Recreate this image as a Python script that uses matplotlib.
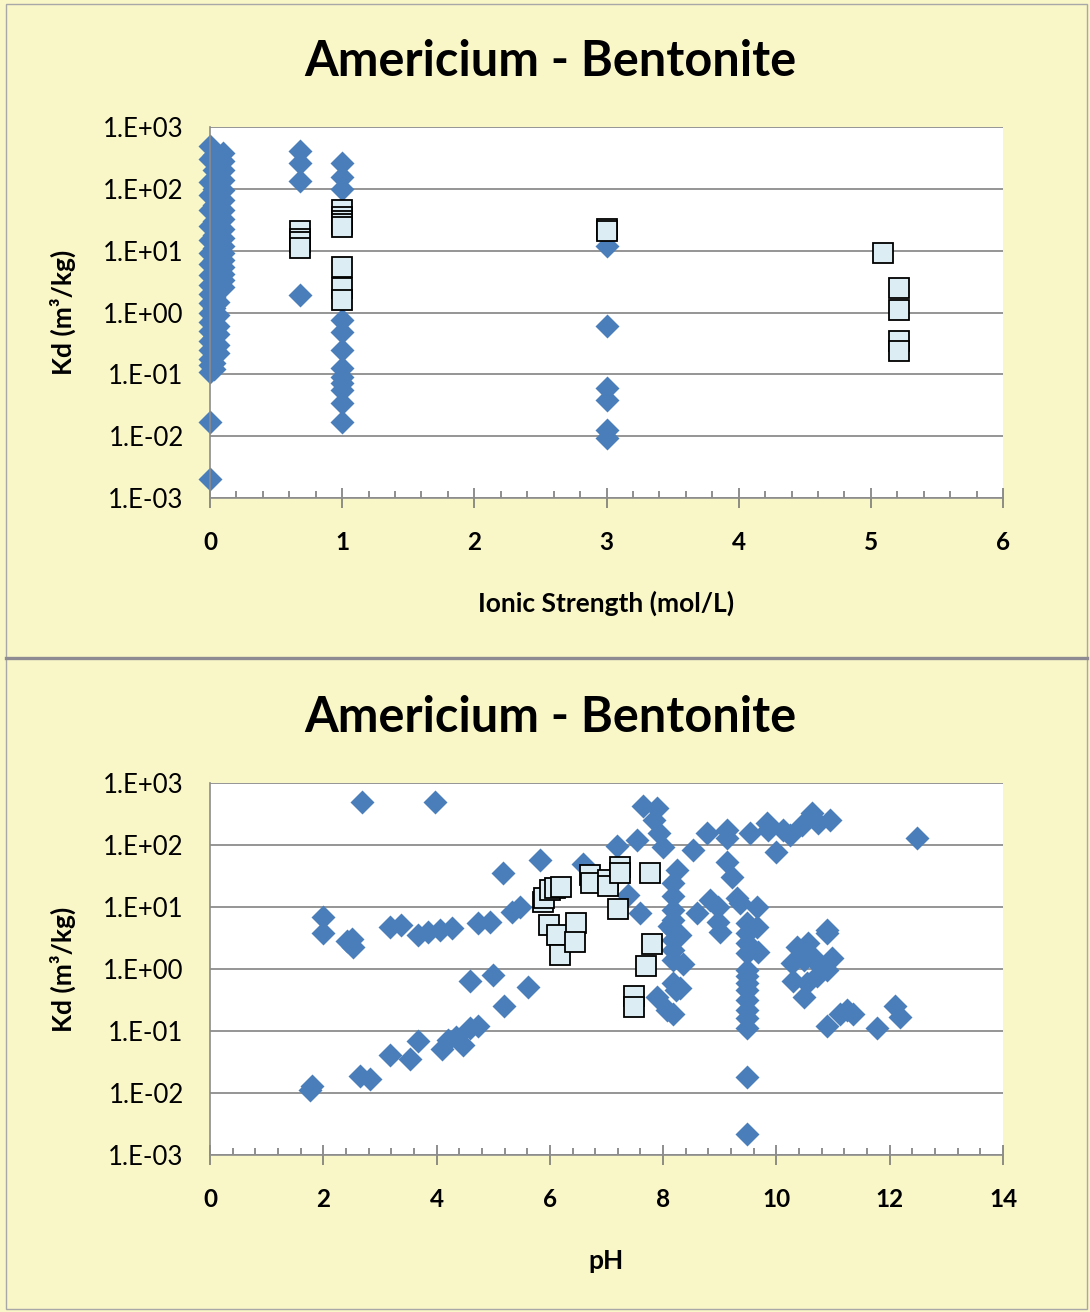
import matplotlib
matplotlib.use('Agg')
import matplotlib.pyplot as plt
from matplotlib.ticker import FixedLocator, FixedFormatter, MultipleLocator, NullLocator
from matplotlib.lines import Line2D
from matplotlib.patches import Rectangle

plt.rc('font', family=['Lato', 'DejaVu Sans'], size=14)

# ---- Kd vs ionic strength ----
# literature values (diamonds)
ion_x = [0, 0, 0, 0, 0, 0, 0, 0, 0, 0, 0, 0, 0, 0, 0, 0, 0, 0, 0, 0, 0, 0, 0,
         0.03, 0.03, 0.03, 0.03, 0.03, 0.03, 0.03, 0.03, 0.03, 0.03, 0.03, 0.03, 0.03, 0.03, 0.03, 0.03, 0.03, 0.03, 0.03,
         0.06, 0.06, 0.06, 0.06, 0.06, 0.06, 0.06, 0.06, 0.06, 0.06, 0.06, 0.06, 0.06, 0.06, 0.06, 0.06,
         0.1, 0.1, 0.1, 0.1, 0.1, 0.1, 0.1, 0.1, 0.1, 0.1, 0.1, 0.1, 0.1, 0.1, 0.1, 0.1, 0.1,
         0.68, 0.68, 0.68, 0.68,
         1.0, 1.0, 1.0, 1.0, 1.0, 1.0, 1.0, 1.0, 1.0, 1.0, 1.0, 1.0,
         3.0, 3.0, 3.0, 3.0, 3.0, 3.0]
ion_kd = [500, 300, 130, 80, 45, 25, 15, 9, 6, 4, 2.8, 2.0, 1.4, 1.0, 0.7, 0.5, 0.35, 0.25, 0.18, 0.14, 0.11, 0.017, 0.002,
          350, 200, 100, 55, 30, 18, 11, 7, 4.5, 3.0, 1.8, 1.2, 0.8, 0.55, 0.4, 0.28, 0.2, 0.15, 0.12,
          250, 150, 70, 35, 20, 12, 8, 5, 3.3, 2.2, 1.5, 0.9, 0.6, 0.45, 0.3, 0.22,
          380, 280, 200, 140, 95, 65, 45, 32, 22, 16, 12, 9, 7, 5.5, 4.2, 3.3, 2.6,
          410, 260, 135, 1.9,
          260, 155, 100, 0.75, 0.49, 0.25, 0.125, 0.09, 0.072, 0.055, 0.034, 0.017,
          12, 0.6, 0.06, 0.038, 0.0125, 0.0093]
# selected values (squares)
ion_sel_x = [0.68, 0.68, 0.68, 0.68,
             1.0, 1.0, 1.0, 1.0, 1.0, 1.0, 1.0, 1.0,
             3.0, 3.0, 5.09, 5.21, 5.21, 5.21, 5.21]
ion_sel_kd = [21, 15.5, 14, 11,
              45, 35, 30, 27, 24, 5.5, 2.5, 1.6,
              22, 21, 9.1, 2.5, 1.1, 0.35, 0.24]

# ---- Kd vs pH ----
ph_x = [1.77, 1.80, 1.99, 1.99, 2.41, 2.50, 2.53, 2.65, 2.68, 2.82,
        3.18, 3.18, 3.38, 3.53, 3.67, 3.68, 3.85, 3.98, 4.06, 4.09,
        4.21, 4.27, 4.35, 4.47, 4.59, 4.59, 4.74, 4.74, 4.94, 4.99,
        5.18, 5.19, 5.33, 5.47, 5.62, 5.83, 6.59, 7.18, 7.38, 7.53,
        7.59, 7.65, 7.83, 7.89, 7.92, 8.00, 7.89, 8.06, 8.18, 8.24,
        8.18, 8.18, 8.18, 8.18, 8.18, 8.18, 8.18, 8.18, 8.18, 8.22,
        8.30, 8.10, 8.35, 8.30,
        8.53, 8.59, 8.77, 8.83, 8.97, 8.97, 9.00, 9.12, 9.12, 9.12,
        9.21, 9.30, 9.36,
        9.48, 9.48, 9.48, 9.48, 9.48, 9.48, 9.48, 9.48, 9.48, 9.48, 9.48, 9.48, 9.48, 9.48,
        9.53, 9.65, 9.65, 9.68, 9.83, 9.86, 10.00, 10.12, 10.24, 10.27,
        10.30, 10.36, 10.45, 10.48, 10.48, 10.54, 10.56, 10.62, 10.62, 10.71,
        10.74, 10.77, 10.89, 10.90, 10.89, 10.89, 10.95, 10.98, 11.12, 11.24,
        11.36, 11.77, 12.09, 12.18, 12.48]
ph_kd = [0.011, 0.013, 6.9, 3.8, 2.8, 3.0, 2.3, 0.019, 490, 0.017,
         4.8, 0.041, 5.1, 0.036, 0.068, 3.6, 4.0, 490, 4.3, 0.052,
         0.071, 4.6, 0.081, 0.059, 0.11, 0.63, 0.12, 5.5, 5.8, 0.8,
         36, 0.25, 8.3, 10, 0.51, 57, 50, 96, 15.5, 120,
         8, 420, 250, 390, 155, 94, 0.35, 0.22, 0.19, 40,
         24, 15, 9, 6.2, 4.2, 2.9, 2.0, 1.4, 0.59, 0.46,
         3.5, 5.0, 1.2, 0.5,
         83, 7.9, 155, 13, 10, 5.8, 4.0, 173, 130, 54,
         31, 14, 11.6,
         5.5, 3.8, 2.6, 1.8, 0.95, 0.76, 0.59, 0.46, 0.32, 0.22, 0.16, 0.11, 0.018, 0.0022,
         155, 10, 4.8, 1.9, 224, 173, 77, 173, 145, 1.23,
         0.63, 2.3, 210, 1.4, 0.35, 0.59, 2.6, 325, 1.6, 0.76,
         224, 1.1, 4.3, 3.8, 0.95, 0.12, 250, 1.5, 0.19, 0.22,
         0.19, 0.11, 0.25, 0.17, 129]
ph_sel_x = [5.88, 5.90, 6.00, 6.09, 6.19, 5.99, 6.12, 6.18, 6.46, 6.44,
            6.71, 6.72, 7.02, 7.03, 7.24, 7.23, 7.21, 7.77, 7.80, 7.69,
            7.49, 7.49]
ph_sel_kd = [12, 14, 19, 20, 21, 5.1, 3.5, 1.7, 5.6, 2.7,
             33, 24, 27, 22, 45, 35, 9.2, 35, 2.5, 1.1,
             0.37, 0.24]

decades = [1e-3, 1e-2, 1e-1, 1e0, 1e1, 1e2, 1e3]
decade_labels = ['1.E-03', '1.E-02', '1.E-01', '1.E+00', '1.E+01', '1.E+02', '1.E+03']

BG = '#F9F6C8'
BLUE = '#4A7EBB'
GRID = '#8C8C8C'

W, H = 1090, 1312
fig = plt.figure(figsize=(W / 100, H / 100), dpi=100, facecolor=BG)


def rect(l, t, r, b):
    return [l / W, 1 - b / H, (r - l) / W, (b - t) / H]


def setup(ax, xmax, major, minor, xlabel):
    ax.set_facecolor('white')
    ax.set_yscale('log')
    ax.set_ylim(1e-3, 1e3)
    ax.set_xlim(0, xmax)
    ax.yaxis.set_major_locator(FixedLocator(decades))
    ax.yaxis.set_major_formatter(FixedFormatter(decade_labels))
    ax.yaxis.set_minor_locator(NullLocator())
    ax.xaxis.set_major_locator(MultipleLocator(major))
    ax.xaxis.set_minor_locator(MultipleLocator(minor))
    ax.grid(axis='y', color=GRID, lw=1.3)
    ax.set_axisbelow(True)
    for s in ['top', 'right']:
        ax.spines[s].set_visible(False)
    for s in ['left', 'bottom']:
        ax.spines[s].set_color(GRID)
        ax.spines[s].set_linewidth(1.2)
    ax.tick_params(axis='y', length=0, pad=19, labelsize=18.5)
    ax.tick_params(axis='x', which='major', direction='inout', length=14,
                   width=1.1, color='#707070', pad=17, labelsize=17.5)
    ax.tick_params(axis='x', which='minor', direction='in', length=5,
                   width=1.1, color='#707070')
    for t in ax.get_xticklabels():
        t.set_fontweight('bold')
    ax.set_xlabel(xlabel, fontsize=19, fontweight='bold')
    ax.xaxis.set_label_coords(0.5, -0.285)
    ax.xaxis.label.set_va('center')
    ax.set_ylabel('Kd (m³/kg)', fontsize=19, fontweight='bold')
    ax.yaxis.set_label_coords(-0.185, 0.5)
    ax.yaxis.label.set_va('center')


# panel frames
fig.add_artist(Rectangle((6 / W, 1 - 1309 / H), 1081 / W, 1305 / H,
                         transform=fig.transFigure, fill=False, ec='#A8A8A8', lw=1))
fig.add_artist(Line2D([6 / W, 1087 / W], [1 - 658 / H, 1 - 658 / H],
                      transform=fig.transFigure, color='#8E8C92', lw=2.4))

# top: ionic strength
ax1 = fig.add_axes(rect(210, 127, 1003, 498))
ax1.plot(ion_x, ion_kd, 'D', ms=12, color=BLUE, mec='none', clip_on=False)
ax1.plot(ion_sel_x, ion_sel_kd, 's', ms=15, mfc='#DCEEF3', mec='black', mew=1.3, clip_on=False)
setup(ax1, 6, 1, 0.2, 'Ionic Strength (mol/L)')
fig.text(550 / W, 1 - 62 / H, 'Americium - Bentonite', ha='center', va='center',
         fontsize=35, fontweight='bold')

# bottom: pH
ax2 = fig.add_axes(rect(210, 783, 1003, 1155))
ax2.plot(ph_x, ph_kd, 'D', ms=12, color=BLUE, mec='none', clip_on=False)
ax2.plot(ph_sel_x, ph_sel_kd, 's', ms=15, mfc='#DCEEF3', mec='black', mew=1.3, clip_on=False)
setup(ax2, 14, 2, 0.4, 'pH')
fig.text(550 / W, 1 - 717 / H, 'Americium - Bentonite', ha='center', va='center',
         fontsize=35, fontweight='bold')

fig.savefig('out.png', dpi=100, facecolor=BG)
